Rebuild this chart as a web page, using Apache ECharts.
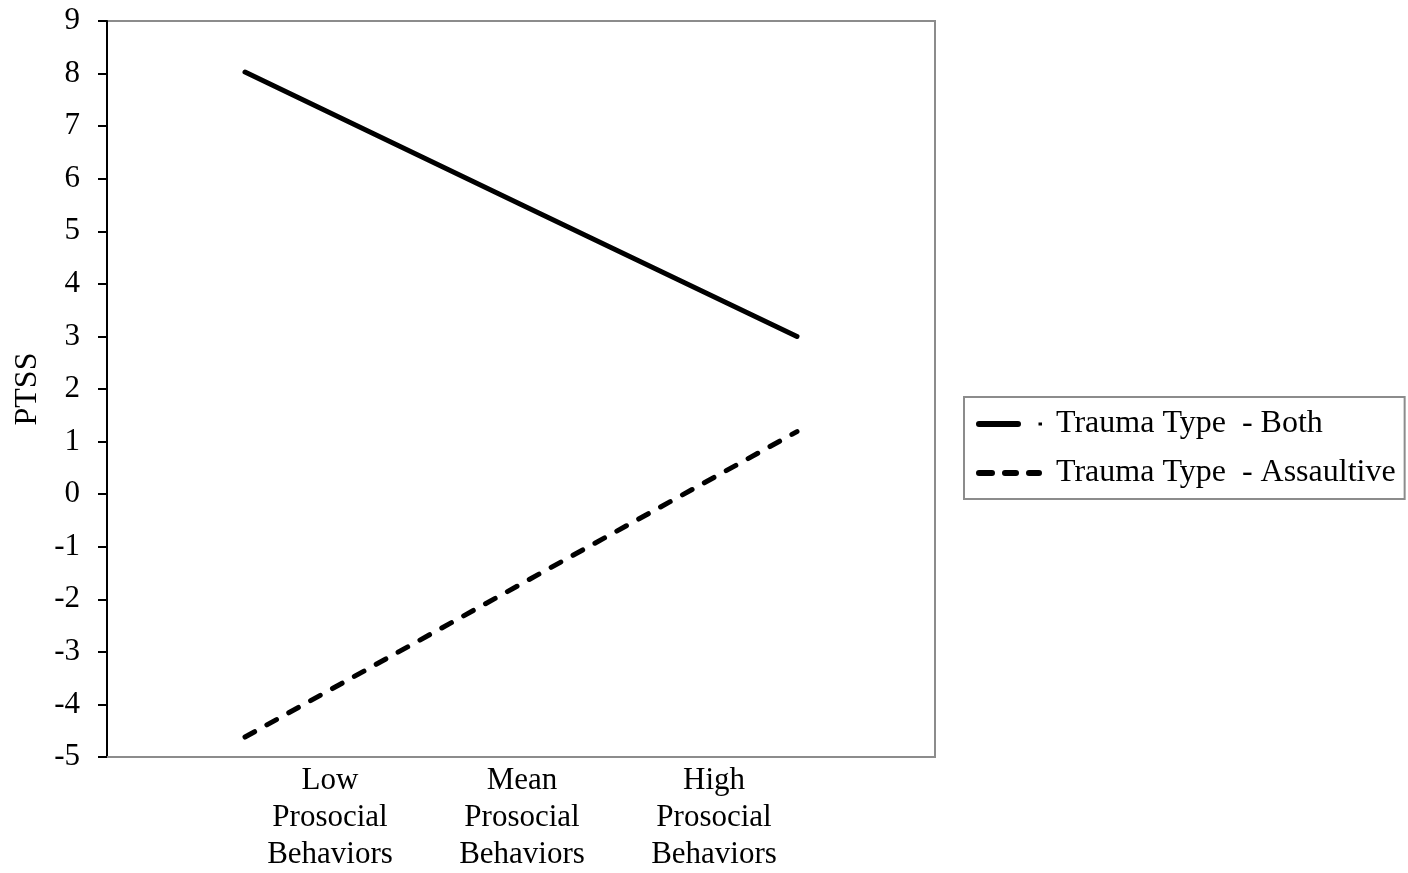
<!DOCTYPE html>
<html>
<head>
<meta charset="utf-8">
<script src="https://cdn.jsdelivr.net/npm/echarts@6/dist/echarts.min.js"></script>
<style>
  html, body { margin: 0; padding: 0; background: #fff; }
  #chart { width: 1408px; height: 873px; }
</style>
</head>
<body>
<div id="chart"></div>
<script>
// Simple slopes: PTSS by prosocial behaviour level, per trauma type
const categories = ['Low\nProsocial\nBehaviors', 'Mean\nProsocial\nBehaviors', 'High\nProsocial\nBehaviors'];
const seriesNames = ['Trauma Type  - Both', 'Trauma Type  - Assaultive'];
const bothValues = [8.03, 5.51, 3.0];
const assaultiveValues = [-4.62, -1.71, 1.19];
const yMin = -5, yMax = 9, yStep = 1;

const FONT = '"Liberation Serif", "Times New Roman", serif';
const GRAY = '#8c8c8c';

// legend keys: a thick solid bar (with its small trailing dot) and a three-dash bar
const SOLID_KEY = 'path://M3,0H42A3,3,0,0,1,42,6H3A3,3,0,0,1,3,0Z M62.5,1.5H66V4.5H62.5Z';
const DASH_KEY = 'path://M3,0H16A3,3,0,0,1,16,6H3A3,3,0,0,1,3,0Z' +
  ' M29,0H40A3,3,0,0,1,40,6H29A3,3,0,0,1,29,0Z' +
  ' M53,0H63A3,3,0,0,1,63,6H53A3,3,0,0,1,53,0Z';

const chart = echarts.init(document.getElementById('chart'));
chart.setOption({
  animation: false,
  textStyle: { fontFamily: FONT, color: '#000' },
  grid: [
    { left: 107, right: 473, top: 21, bottom: 116, show: true, borderColor: GRAY, borderWidth: 2, backgroundColor: '#fff' },
    // category captions sit on their own narrower band below the plot
    { left: 234, width: 576, top: 21, bottom: 116, show: false }
  ],
  xAxis: [
    {
      type: 'category', gridIndex: 0, data: categories, boundaryGap: true,
      axisLine: { onZero: false, lineStyle: { color: GRAY, width: 2 } },
      axisTick: { show: false }, axisLabel: { show: false }, splitLine: { show: false }
    },
    {
      type: 'category', gridIndex: 1, data: categories, boundaryGap: true,
      axisLine: { show: false, onZero: false }, axisTick: { show: false }, splitLine: { show: false },
      axisLabel: { fontFamily: FONT, fontSize: 31, lineHeight: 37, color: '#000', margin: 8, interval: 0, align: 'center' }
    }
  ],
  yAxis: [
    {
      type: 'value', gridIndex: 0, min: yMin, max: yMax, interval: yStep,
      name: 'PTSS', nameLocation: 'middle', nameGap: 63, nameRotate: 90,
      nameTextStyle: { fontFamily: FONT, fontSize: 32, color: '#000' },
      axisLine: { show: true, onZero: false, lineStyle: { color: '#000', width: 2 } },
      axisTick: { show: true, inside: false, length: 9, lineStyle: { color: '#000', width: 2 } },
      axisLabel: { fontFamily: FONT, fontSize: 31, color: '#000', margin: 27 },
      splitLine: { show: false }
    },
    { type: 'value', gridIndex: 1, min: yMin, max: yMax, show: false }
  ],
  legend: {
    orient: 'vertical', left: 964, top: 397,
    padding: [9, 9, 8, 12],
    borderColor: GRAY, borderWidth: 2, backgroundColor: '#fff',
    itemWidth: 66, itemHeight: 6, itemGap: 13,
    textStyle: { fontFamily: FONT, fontSize: 32, lineHeight: 36, color: '#000', padding: [0, 0, 0, 9] },
    data: [
      { name: seriesNames[0], icon: SOLID_KEY, itemStyle: { color: '#000' } },
      { name: seriesNames[1], icon: DASH_KEY, itemStyle: { color: '#000' } }
    ]
  },
  series: [
    {
      name: seriesNames[0], type: 'line', xAxisIndex: 0, yAxisIndex: 0,
      data: bothValues, symbol: 'none',
      lineStyle: { color: '#000', width: 5, type: 'solid', cap: 'round' },
      itemStyle: { color: '#000' }
    },
    {
      name: seriesNames[1], type: 'line', xAxisIndex: 0, yAxisIndex: 0,
      data: assaultiveValues, symbol: 'none',
      lineStyle: { color: '#000', width: 5, type: [11, 14], cap: 'round' },
      itemStyle: { color: '#000' }
    }
  ]
});
</script>
</body>
</html>
